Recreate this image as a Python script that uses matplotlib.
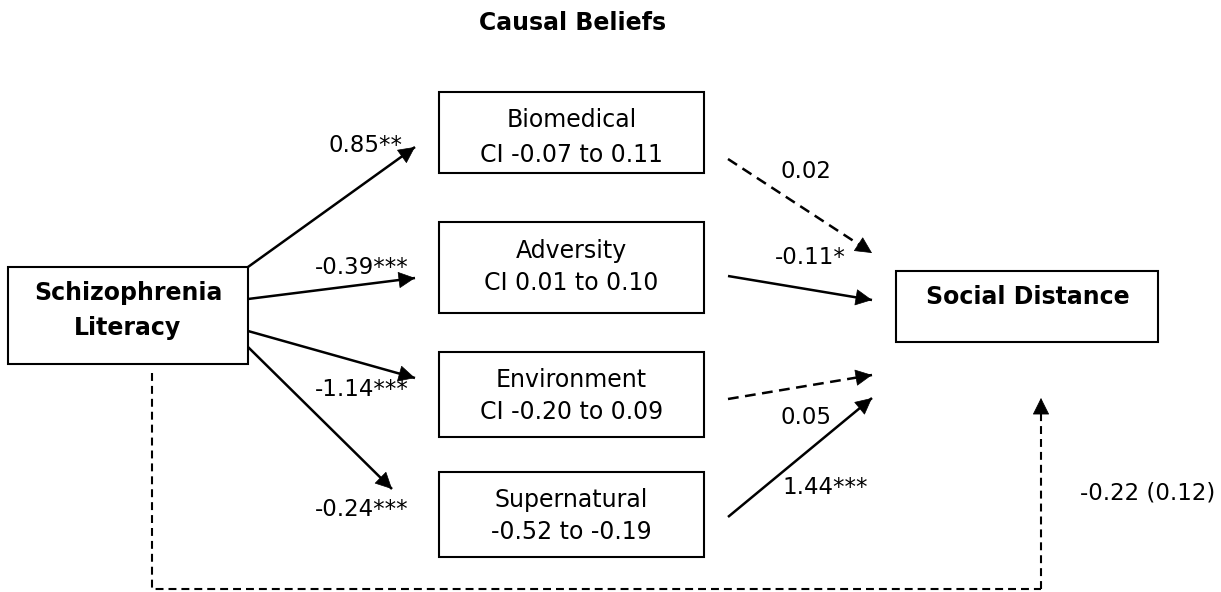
import numpy as np
import matplotlib
matplotlib.use("Agg")
import matplotlib.pyplot as plt
from matplotlib.patches import Rectangle

plt.rcParams['font.family'] = ['DejaVu Sans']

# Diagram content
title = "Causal Beliefs"
predictor = ["Schizophrenia", "Literacy"]
outcome = "Social Distance"
mediators = ["Biomedical", "Adversity", "Environment", "Supernatural"]
mediator_ci = ["CI -0.07 to 0.11", "CI 0.01 to 0.10", "CI -0.20 to 0.09", "-0.52 to -0.19"]
a_paths = ["0.85**", "-0.39***", "-1.14***", "-0.24***"]
b_paths = ["0.02", "-0.11*", "0.05", "1.44***"]
b_signif = [False, True, False, True]
direct_path = "-0.22 (0.12)"

# Layout in pixel coordinates (y down)
W, H = 1221, 592
fig = plt.figure(figsize=(W / 100, H / 100), dpi=100)
ax = fig.add_axes([0, 0, 1, 1])
ax.set_xlim(0, W)
ax.set_ylim(H, 0)
ax.axis("off")

FS = 17      # box text
LFS = 16.5   # path labels
LW = 1.8


def box(x0, y0, x1, y1):
    ax.add_patch(Rectangle((x0, y0), x1 - x0, y1 - y0, fill=False,
                           edgecolor="black", lw=1.5))


def arrow(x0, y0, x1, y1, dashed=False, lw=LW, dash=(4.3, 2.6)):
    ax.plot([x0, x1], [y0, y1], color="black", lw=lw,
            ls=(0, dash) if dashed else "-", solid_capstyle="butt")
    d = np.array([x1 - x0, y1 - y0], dtype=float)
    d /= np.hypot(*d)
    ax.annotate("", xy=(x1, y1), xytext=(x1 - d[0] * 2, y1 - d[1] * 2),
                arrowprops=dict(arrowstyle="-|>,head_length=1.1,head_width=0.55",
                                mutation_scale=10, color="black", lw=0.5,
                                shrinkA=0, shrinkB=0))


ax.text(573, 23, title, ha="center", va="center", fontsize=FS, fontweight="bold")

# predictor
box(8, 267, 248, 364)
for line, y in zip(predictor, [293, 328]):
    ax.text(128, y, line, ha="center", va="center", fontsize=FS,
            fontweight="bold")

# outcome
box(896, 271, 1158, 342)
ax.text(1028, 297, outcome, ha="center", va="center", fontsize=FS,
        fontweight="bold")

# mediators
m_boxes = [(92, 173), (222, 313), (352, 437), (472, 557)]
m_text_y = [(120, 155), (251, 283), (380, 412), (500, 532)]
for (y0, y1), (t1, t2), name, ci in zip(m_boxes, m_text_y, mediators, mediator_ci):
    box(439, y0, 704, y1)
    ax.text(571.5, t1, name, ha="center", va="center", fontsize=FS)
    ax.text(571.5, t2, ci, ha="center", va="center", fontsize=FS)

# a paths
a_start = [(248, 267), (248, 299), (248, 331), (248, 347)]
a_end = [(415, 147), (415, 278), (415, 378), (392, 489)]
a_lab_xy = [(403, 145), (409, 268), (409, 390), (409, 510)]
for (x0, y0), (x1, y1), lab, (lx, ly) in zip(a_start, a_end, a_paths, a_lab_xy):
    arrow(x0, y0, x1, y1)
    ax.text(lx, ly, lab, ha="right", va="center", fontsize=LFS)

# b paths
b_start = [(728, 159), (728, 276), (728, 399), (728, 517)]
b_end = [(872, 253), (872, 300), (872, 375), (872, 398)]
b_lab_xy = [(780, 172), (775, 258), (780, 418), (782, 487)]
for (x0, y0), (x1, y1), lab, (lx, ly), sig in zip(b_start, b_end, b_paths,
                                                   b_lab_xy, b_signif):
    arrow(x0, y0, x1, y1, dashed=not sig)
    ax.text(lx, ly, lab, ha="left", va="center", fontsize=LFS)

# direct path (dashed loop underneath)
ax.plot([152, 152, 1041], [373, 589, 589], color="black", lw=1.5,
        ls=(0, (3.8, 2.4)))
arrow(1041, 589, 1041, 398, dashed=True, lw=1.5, dash=(3.8, 2.4))
ax.text(1080, 493, direct_path, ha="left", va="center", fontsize=LFS)

fig.savefig("out.png", dpi=100, facecolor="white")
